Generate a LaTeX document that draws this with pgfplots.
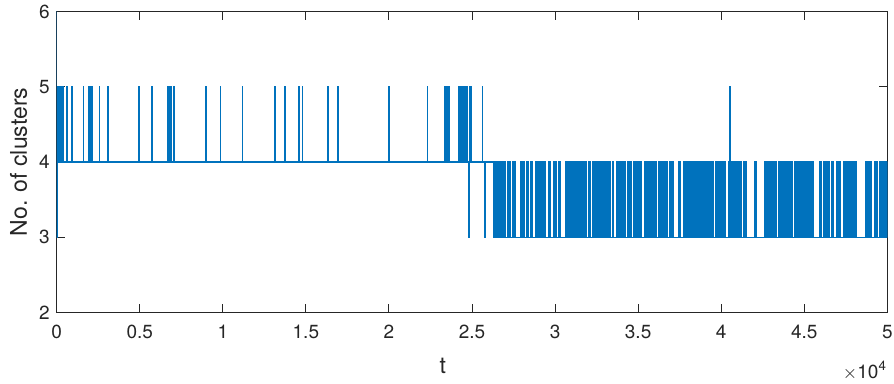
\documentclass[border=0pt]{standalone}
\usepackage{pgfplots}
\pgfplotsset{compat=1.18}
\usepackage{fontspec}
\setmainfont{TeX Gyre Heros}
\definecolor{mblue}{RGB}{0,114,189}
\definecolor{axgray}{RGB}{38,38,38}
\begin{document}
\begin{tikzpicture}
\begin{axis}[
  scale only axis, width=415.3pt, height=150.3pt,
  xmin=0, xmax=50000, ymin=2, ymax=6,
  xtick={0,5000,10000,15000,20000,25000,30000,35000,40000,45000,50000},
  xticklabels={0,0.5,1,1.5,2,2.5,3,3.5,4,4.5,5},
  scaled x ticks=false,
  ytick={2,3,4,5,6},
  tick align=inside, major tick length=4pt,
  axis line style={axgray, line width=0.5pt},
  every tick/.style={axgray, line width=0.5pt},
  tick label style={font=\fontsize{9.5}{11}\selectfont, text=axgray},
  xticklabel style={yshift=-3pt},
  /pgf/number format/assume math mode=true,
  clip mode=individual,
]
\addplot[const plot, mblue, line width=0.6pt] coordinates {
(0,6) (10,3) (20,5) (60,4) (96,5) (116,4) (199,5) (219,4) (301,5) (321,4) (397,5) (417,4)
(602,5) (622,4) (903,5) (923,4) (1601,5) (1621,4) (1944,5) (1964,4) (2047,5) (2067,4)
(2107,5) (2127,4) (2565,5) (2585,4) (3070,5) (3090,4) (4954,5) (4974,4) (5719,5) (5739,4)
(5755,5) (5775,4) (6700,5) (6720,4) (6803,5) (6823,4) (6881,5) (6901,4) (7061,5) (7081,4)
(8970,5) (8990,4) (9860,5) (9880,4) (11173,5) (11193,4) (13142,5) (13162,4) (13744,5) (13764,4)
(14587,5) (14607,4) (14785,5) (14805,4) (16314,5) (16334,4) (16916,5) (16936,4) (20004,5) (20024,4)
(22322,5) (22342,4) (23334,5) (23354,4) (23400,5) (23420,4) (23480,5) (23500,4) (23574,5) (23594,4)
(23634,5) (23654,4) (24218,5) (24238,4) (24297,5) (24317,4) (24399,5) (24419,4) (24501,5) (24521,4)
(24598,5) (24618,4) (24660,5) (24680,4) (24720,5) (24740,4) (24800,3) (24820,4) (24850,5) (24870,4)
(24923,5) (24943,4) (25621,5) (25641,4) (25766,3) (25786,4) (26325,4)
};
\addplot[const plot, draw=mblue, fill=mblue, line width=0.6pt] coordinates {
(26325,3) (26325,4) (26988,3) (27150,4) (27331,3) (27427,4) (27632,3) (27951,4) (28174,3)
(28294,4) (28390,3) (28553,4) (28655,3) (28854,4) (28992,3) (29095,4) (29257,3) (29335,4) (29438,3)
(29594,4) (29739,3) (29937,4) (30100,3) (30238,4) (30299,3) (30660,4) (30822,3) (30901,4) (31039,3)
(31099,4) (31262,3) (31340,4) (31503,3) (31605,4) (31701,3) (31804,4) (31906,3) (32002,4) (32105,3)
(32267,4) (32508,3) (32568,4) (33351,3) (33447,4) (33507,3) (33712,4) (34230,3) (34374,4) (34615,3)
(34711,4) (34856,3) (34916,4) (35175,3) (35374,4) (35717,3) (35819,4) (36120,3) (36216,4) (36559,3)
(36680,4) (36782,3) (36879,4) (37119,3) (37420,4) (37523,3) (37721,4) (38083,3) (38125,4) (38227,3)
(38287,4) (38426,3) (38528,4) (38727,3) (38829,4) (39527,3) (39690,4) (39828,3) (39931,4) (40232,3)
(40430,4) (40515,5) (40535,4) (40731,3) (40834,4) (41195,3) (41333,4) (41538,3) (42038,4) (42140,3)
(42640,4) (42778,3) (42838,4) (43344,3) (43440,4) (44042,3) (44143,4) (44307,3) (44446,4) (44644,3)
(44705,4) (44987,3) (45048,4) (45349,3) (45451,4) (45547,3) (45909,4) (46053,3) (46149,4) (46252,3)
(46354,4) (46511,3) (46655,4) (46751,3) (46956,4) (47155,3) (47353,4) (48160,3) (48720,4) (49021,3)
(49262,4) (49400,3) (49563,4) (50000,3)
} -- cycle;
\coordinate (SW) at (rel axis cs:0,0);
\coordinate (NE) at (rel axis cs:1,1);
\node[rotate=90, font=\fontsize{11.5}{13}\selectfont, text=axgray] at ([xshift=-19pt]rel axis cs:0,0.5) {No. of clusters};
\node[font=\fontsize{11.5}{13}\selectfont, text=axgray] at ([yshift=-27pt]rel axis cs:0.465,0) {t};
\node[anchor=east, font=\fontsize{9.5}{11}\selectfont, text=axgray, inner sep=0pt] at ([yshift=-29pt]rel axis cs:1,0) {$\times$10\textsuperscript{4}};
\end{axis}
\pgfresetboundingbox
\path ([xshift=-28.35pt,yshift=-35.85pt]SW) rectangle ([xshift=3.35pt,yshift=5.85pt]NE);
\end{tikzpicture}
\end{document}
